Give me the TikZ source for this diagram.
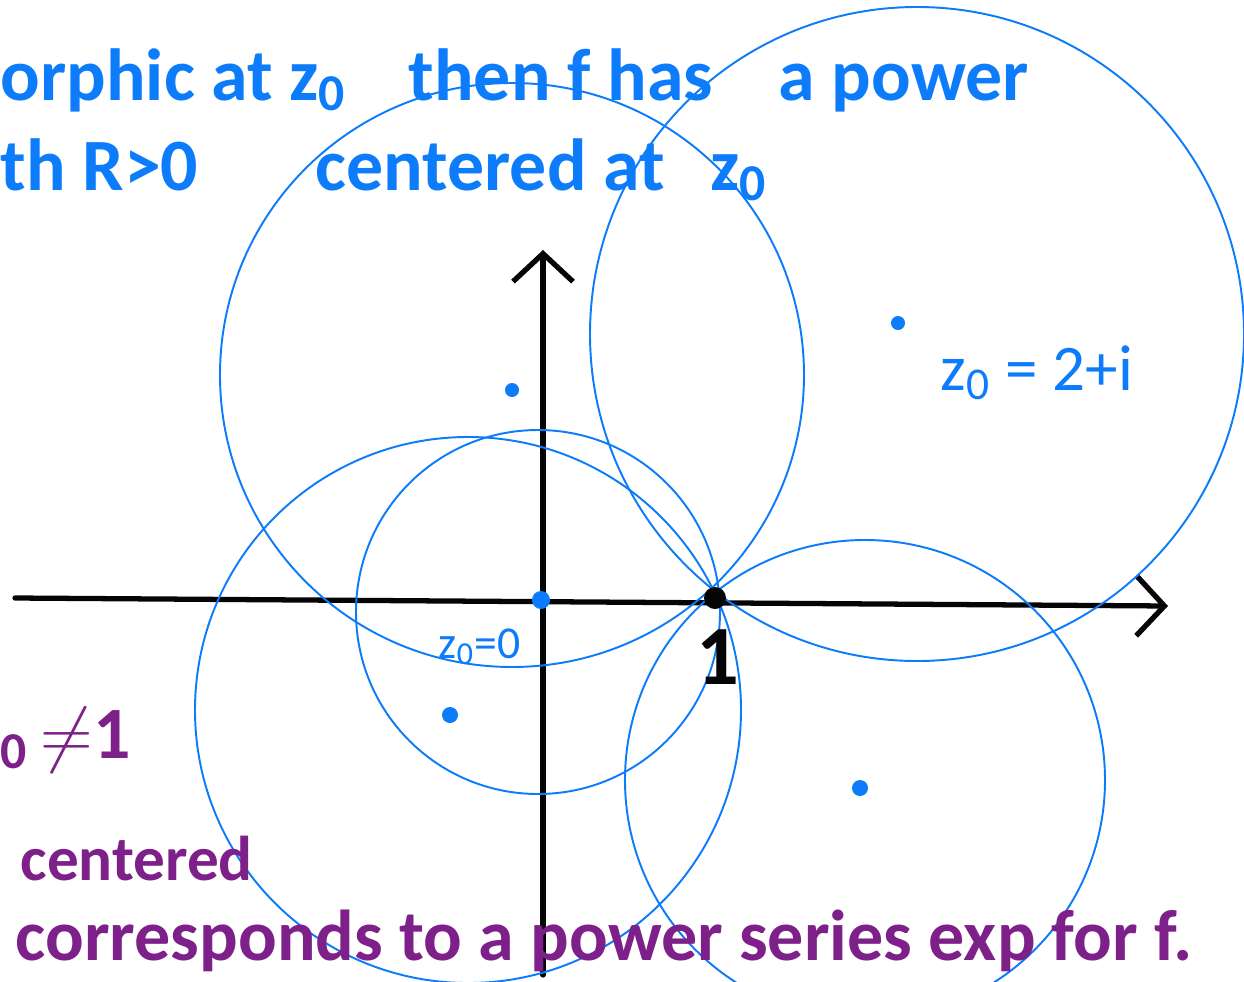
\documentclass[tikz,border=0pt]{standalone}
\usepackage{fontspec}
\setmainfont{Carlito}
\usepackage{tikz}
\usetikzlibrary{arrows.meta,calc}
\definecolor{penblue}{RGB}{12,124,250}
\definecolor{penpurple}{RGB}{126,32,137}
\definecolor{penblack}{RGB}{5,5,5}
\tikzset{
  axis/.style={line width=1.5pt, draw=penblack, line cap=round,
    -{Straight Barb[length=2.8mm,width=6mm,line width=1.5pt]}},
  disc/.style={draw=penblue, line width=0.55pt},
  centre/.style={fill=penblue},
  note/.style={anchor=base west, inner sep=0pt, font=\fontsize{21}{24}\bfseries},
  bluenote/.style={note, text=penblue},
  purplenote/.style={note, text=penpurple},
  smalllabel/.style={anchor=base west, inner sep=0pt, text=penblue}
}
\newcommand{\zsub}{z\textsubscript{0}}

\begin{document}
\begin{tikzpicture}
  \useasboundingbox (0,0) rectangle (12.44,-9.81);
  \fill[white] (0,0) rectangle (12.44,-9.81);

  % Axes
  \coordinate (xstart) at (0.15,-5.98);
  \coordinate (xend) at (11.68,-6.06);
  \coordinate (ystart) at (5.43,-9.75);
  \coordinate (yend) at (5.43,-2.50);
  \coordinate (origin) at (5.41,-6.00);
  \coordinate (one) at (7.15,-5.98);
  \draw[axis] (xstart) -- (xend);
  \draw[axis] (ystart) -- (yend);

  % Disc centres
  \coordinate (ctop) at (5.12,-3.75);
  \coordinate (cright) at (9.17,-3.34);
  \coordinate (cmid) at (5.38,-6.12);
  \coordinate (cleft) at (4.68,-7.10);
  \coordinate (cbottom) at (8.65,-7.80);

  % Discs through 1
  \draw[disc] (ctop) circle (2.92);
  \draw[disc] (cright) circle (3.27);
  \draw[disc] (cmid) circle (1.82);
  \draw[disc] (cleft) circle (2.73);
  \draw[disc] (cbottom) circle (2.40);

  % Dots
  \fill[centre] (5.12,-3.90) circle (0.07);
  \fill[centre] (8.98,-3.23) circle (0.07);
  \fill[centre] (4.50,-7.15) circle (0.08);
  \fill[centre] (8.60,-7.88) circle (0.08);
  \fill[centre] (origin) circle (0.09);
  \fill[penblack] (one) circle (0.11);

  % Labels on the plane
  \node[font=\fontsize{24}{26}\bfseries, text=penblack, anchor=base] (onelabel) at (7.18,-6.84) {1};
  \node[smalllabel, font=\fontsize{13}{15}\selectfont] (zzero) at (4.38,-6.58) {\zsub=0};
  \node[smalllabel, font=\fontsize{18.5}{21}\selectfont] (ztwo) at (9.40,-3.90) {\zsub{} = 2+i};

  % Blue notes
  \node[bluenote] (lineone) at (0.00,-1.00) {orphic at \zsub};
  \node[bluenote] (linetwo) at (4.08,-1.00) {then f has};
  \node[bluenote] (linethree) at (7.78,-1.00) {a power};
  \node[bluenote] (linefour) at (0.00,-1.90) {th R>0};
  \node[bluenote] (linefive) at (3.15,-1.90) {centered at\hspace{13pt}\zsub};

  % Purple notes
  \node[purplenote] (neqone) at (0.00,-7.58) {\textsubscript{0}\,$\neq$1};
  \node[purplenote, font=\fontsize{18}{22}\bfseries] (centered) at (0.20,-8.80) {centered};
  \node[purplenote, font=\fontsize{20.5}{24}\bfseries] (series) at (0.15,-9.60) {corresponds to a power series exp for f.};
\end{tikzpicture}
\end{document}
